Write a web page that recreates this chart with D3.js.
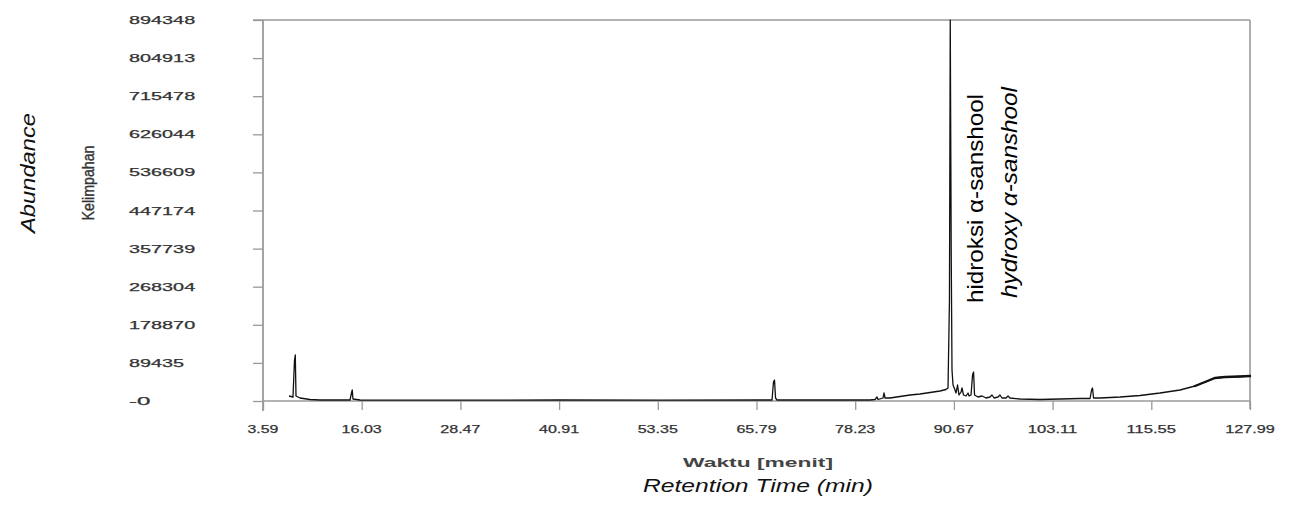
<!DOCTYPE html>
<html>
<head>
<meta charset="utf-8">
<script src="https://cdn.jsdelivr.net/npm/d3@7"></script>
<style>
  html, body { margin: 0; padding: 0; background: #fff; }
  svg { display: block; }
  text { font-family: "Liberation Sans", Arial, sans-serif; }
</style>
</head>
<body>
<svg id="chart" width="1295" height="506"></svg>
<script>
// ---- data ----
const xTickValues = [3.59, 16.03, 28.47, 40.91, 53.35, 65.79, 78.23, 90.67, 103.11, 115.55, 127.99];
const xTickLabels = ["3.59", "16.03", "28.47", "40.91", "53.35", "65.79", "78.23", "90.67", "103.11", "115.55", "127.99"];
const yTickValues = [0, 89435, 178870, 268304, 357739, 447174, 536609, 626044, 715478, 804913, 894348];
const yTickLabels = ["-0", "89435", "178870", "268304", "357739", "447174", "536609", "626044", "715478", "804913", "894348"];

// retention time (min)
const times = [6.87, 7.37, 7.56, 7.66, 7.75, 8.25, 9.51, 10.77, 13.30, 14.56, 14.74, 14.84, 14.93, 15.82,
  27.16, 41.02, 53.63, 67.49, 67.75, 67.93, 68.06, 68.19, 68.37, 80.10, 80.73, 80.98, 81.11, 81.74, 81.86,
  81.99, 82.62, 83.88, 85.14, 86.40, 87.66, 88.92, 89.67, 89.93, 90.11, 90.21, 90.33, 90.43, 90.56, 90.81,
  90.94, 91.13, 91.31, 91.57, 91.69, 91.88, 92.20, 92.45, 92.58, 92.83, 93.02, 93.15, 93.27, 93.71, 94.21,
  94.72, 95.22, 95.47, 95.73, 96.23, 96.48, 96.73, 97.24, 97.49, 97.74, 99.00, 101.52, 104.04, 106.57,
  107.83, 108.02, 108.14, 108.27, 109.09, 111.61, 114.13, 116.65, 119.17, 121.06, 122.32, 123.58, 124.85,
  126.74, 127.99];
// abundance
const abundance = [11740, 9390, 96240, 107980, 11740, 7040, 3520, 2350, 2350, 2350, 18780, 25820, 4690, 2350,
  2000, 2350, 2100, 2350, 2350, 44600, 49300, 7040, 2350, 2350, 3520, 9390, 3520, 7040, 18780,
  7040, 7040, 10560, 14080, 16430, 19950, 23470, 27000, 30520, 237090, 894000, 354460, 72770, 37560, 25820,
  18780, 37560, 14080, 21130, 30520, 14080, 11740, 18780, 11740, 14080, 61030, 68070, 14080, 9390, 11740,
  7040, 9390, 14080, 7040, 9390, 14080, 7040, 7040, 11740, 7040, 4690, 3520, 4690, 5870,
  5870, 25820, 30520, 7040, 7040, 9390, 12910, 18780, 25820, 35210, 44600, 53990, 56340,
  57510, 58690];

const peakLabel1 = "hidroksi α-sanshool";
const peakLabel2 = "hydroxy α-sanshool";

// ---- drawing ----
const svg = d3.select("#chart");
const L = 263, R = 1250, T = 20, B = 401;
const x = d3.scaleLinear().domain([3.59, 127.99]).range([L, R]);
const y = d3.scaleLinear().domain([0, 894348]).range([B, T]);
const axisGray = "#9a9a9a";
const labelFill = "#333";

// y ticks via axis
const yAxis = svg.append("g").attr("transform", `translate(${L},0)`)
  .call(d3.axisLeft(y).tickValues(yTickValues).tickSize(10).tickFormat(""));
yAxis.select(".domain").remove();
yAxis.selectAll(".tick line").attr("stroke", axisGray).attr("stroke-width", 1.3);

// x ticks via axis
const xAxis = svg.append("g").attr("transform", `translate(0,${B})`)
  .call(d3.axisBottom(x).tickValues(xTickValues).tickSize(9).tickFormat(""));
xAxis.select(".domain").remove();
xAxis.selectAll(".tick line").attr("stroke", axisGray).attr("stroke-width", 1.3);

// frame lines
svg.append("line").attr("x1", L - 10).attr("x2", R).attr("y1", T).attr("y2", T)
  .attr("stroke", axisGray).attr("stroke-width", 1.6);
svg.append("line").attr("x1", L).attr("x2", L).attr("y1", T).attr("y2", B + 10)
  .attr("stroke", axisGray).attr("stroke-width", 1.8);
svg.append("line").attr("x1", R).attr("x2", R).attr("y1", T).attr("y2", B + 8)
  .attr("stroke", axisGray).attr("stroke-width", 1.6);
svg.append("line").attr("x1", L).attr("x2", R).attr("y1", B).attr("y2", B)
  .attr("stroke", axisGray).attr("stroke-width", 1.6);

// y tick labels
svg.append("g").selectAll("text").data(yTickValues).join("text")
  .attr("x", 129).attr("y", d => y(d) + 4)
  .attr("font-size", 10.5).attr("fill", labelFill).attr("stroke", labelFill).attr("stroke-width", 0.25)
  .attr("textLength", (d, i) => yTickLabels[i].length * 11.2 - 1)
  .attr("lengthAdjust", "spacingAndGlyphs")
  .text((d, i) => yTickLabels[i]);

// x tick labels
svg.append("g").selectAll("text").data(xTickValues).join("text")
  .attr("x", d => x(d)).attr("y", 433)
  .attr("text-anchor", "middle")
  .attr("font-size", 10.5).attr("fill", labelFill).attr("stroke", labelFill).attr("stroke-width", 0.25)
  .attr("textLength", (d, i) => xTickLabels[i].replace(".", "").length * 9.3 + 3)
  .attr("lengthAdjust", "spacingAndGlyphs")
  .text((d, i) => xTickLabels[i]);

// axis titles
svg.append("text").attr("x", 758).attr("y", 467).attr("text-anchor", "middle")
  .attr("font-size", 13).attr("font-weight", "bold").attr("fill", "#444")
  .attr("textLength", 150).attr("lengthAdjust", "spacingAndGlyphs")
  .text("Waktu [menit]");
svg.append("text").attr("x", 758).attr("y", 492).attr("text-anchor", "middle")
  .attr("font-size", 18.5).attr("font-style", "italic").attr("fill", "#111")
  .attr("textLength", 230).attr("lengthAdjust", "spacingAndGlyphs")
  .text("Retention Time  (min)");
svg.append("text").attr("transform", "translate(94,183) scale(1.25,1) rotate(-90)")
  .attr("text-anchor", "middle").attr("font-size", 13.5).attr("fill", "#333")
  .attr("stroke", "#333").attr("stroke-width", 0.3)
  .attr("textLength", 75).attr("lengthAdjust", "spacingAndGlyphs")
  .text("Kelimpahan");
svg.append("text").attr("transform", "translate(35,173) rotate(-90)")
  .attr("text-anchor", "middle").attr("font-size", 21).attr("font-style", "italic").attr("fill", "#111")
  .attr("textLength", 120).attr("lengthAdjust", "spacingAndGlyphs")
  .text("Abundance");

// chromatogram
const pts = times.map((t, i) => [t, abundance[i]]);
const line = d3.line().x(d => x(d[0])).y(d => y(d[1]));
svg.append("path").datum(pts).attr("d", line)
  .attr("fill", "none").attr("stroke", "#111").attr("stroke-width", 1.3).attr("stroke-linejoin", "round");
svg.append("path").datum(pts.filter(d => d[0] >= 121)).attr("d", line)
  .attr("fill", "none").attr("stroke", "#111").attr("stroke-width", 2.4).attr("stroke-linecap", "round");

// peak annotations
svg.append("text").attr("transform", "translate(983,303) rotate(-90)")
  .attr("font-size", 22).attr("fill", "#000")
  .attr("textLength", 209).attr("lengthAdjust", "spacingAndGlyphs")
  .text(peakLabel1);
svg.append("text").attr("transform", "translate(1017,298) rotate(-90)")
  .attr("font-size", 22).attr("font-style", "italic").attr("fill", "#000")
  .attr("textLength", 211).attr("lengthAdjust", "spacingAndGlyphs")
  .text(peakLabel2);
</script>
</body>
</html>
